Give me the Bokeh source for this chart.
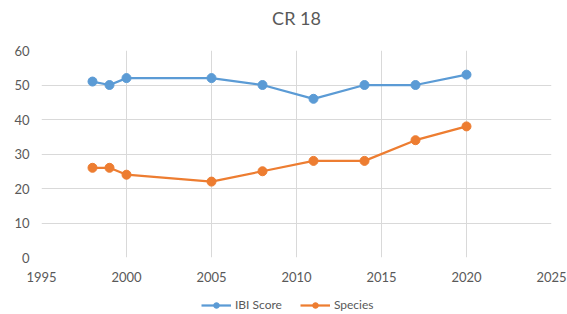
from bokeh.plotting import figure
from bokeh.models import Range1d, Legend, LegendItem, FixedTicker, Title
from bokeh.layouts import column
from bokeh.embed import file_html
from bokeh.resources import INLINE

years_ibi = [1998, 1999, 2000, 2005, 2008, 2011, 2014, 2017, 2020]
ibi_score = [51, 50, 52, 52, 50, 46, 50, 50, 53]
years_sp = [1998, 1999, 2000, 2005, 2008, 2011, 2014, 2017, 2020]
species = [26, 26, 24, 22, 25, 28, 28, 34, 38]
x_ticks = [1995, 2000, 2005, 2010, 2015, 2020, 2025]
y_ticks = [0, 10, 20, 30, 40, 50, 60]
title_text = "CR 18"
series_names = ["IBI Score", "Species"]

FONT = "Lato"
GREY = "#595959"
BLUE = "#5B9BD5"
ORANGE = "#ED7D31"

p = figure(frame_width=510, frame_height=207, output_backend="svg", toolbar_location=None,
           x_range=Range1d(1995, 2025), y_range=Range1d(0, 60),
           min_border_left=41, min_border_right=16, min_border_top=50, min_border_bottom=36)
p.title.text = ""
p.outline_line_color = None
p.background_fill_color = "white"
p.border_fill_color = "white"

# spacer closest to the frame, then the visible title
spacer = Title(text=" ", text_font=FONT, text_font_size="10px", standoff=8, align="center")
p.add_layout(spacer, "above")
main_title = Title(text=title_text, text_font=FONT, text_font_size="18px",
                   text_font_style="normal", text_color=GREY, align="center",
                   offset=0, standoff=0)
p.add_layout(main_title, "above")

for ax in (p.xaxis[0], p.yaxis[0]):
    ax.axis_line_color = None
    ax.major_tick_line_color = None
    ax.minor_tick_line_color = None
    ax.major_tick_out = 0
    ax.major_tick_in = 0
    ax.major_label_text_font = FONT
    ax.major_label_text_font_size = "13px"
    ax.major_label_text_color = GREY
p.xaxis[0].ticker = FixedTicker(ticks=x_ticks)
p.yaxis[0].ticker = FixedTicker(ticks=y_ticks)
p.xaxis[0].major_label_standoff = 14
p.yaxis[0].major_label_standoff = 12

for g in (p.xgrid[0], p.ygrid[0]):
    g.grid_line_color = "#d9d9d9"
    g.grid_line_width = 1
p.xgrid[0].ticker = FixedTicker(ticks=x_ticks)
p.ygrid[0].ticker = FixedTicker(ticks=y_ticks)

p.line(years_ibi, ibi_score, line_color=BLUE, line_width=2.25)
p.scatter(years_ibi, ibi_score, size=9, fill_color=BLUE, line_color=BLUE)
p.line(years_sp, species, line_color=ORANGE, line_width=2.25)
p.scatter(years_sp, species, size=9, fill_color=ORANGE, line_color=ORANGE)

# legend row as its own strip under the chart (series drawn off-screen, only the key shows)
pl = figure(width=567, height=21, output_backend="svg", toolbar_location=None,
            x_axis_type=None, y_axis_type=None, x_range=Range1d(0, 1), y_range=Range1d(0, 1),
            min_border_left=0, min_border_right=0, min_border_top=0, min_border_bottom=0)
pl.outline_line_color = None
pl.grid.visible = False
pl.background_fill_color = "white"
pl.border_fill_color = "white"
k1 = pl.line(years_ibi, ibi_score, line_color=BLUE, line_width=2.25)
m1 = pl.scatter(years_ibi, ibi_score, size=8, fill_color=BLUE, line_color=BLUE)
k2 = pl.line(years_sp, species, line_color=ORANGE, line_width=2.25)
m2 = pl.scatter(years_sp, species, size=8, fill_color=ORANGE, line_color=ORANGE)

legend = Legend(items=[LegendItem(label=series_names[0], renderers=[k1, m1]),
                       LegendItem(label=series_names[1], renderers=[k2, m2])],
                orientation="horizontal", location=(160, 2), nrows=1,
                label_text_font=FONT, label_text_font_size="12px", label_text_color=GREY,
                border_line_color=None, background_fill_alpha=0,
                glyph_width=30, glyph_height=14, padding=1, spacing=18, margin=0,
                label_standoff=4, label_height=14)
pl.add_layout(legend, "center")

layout = column(p, pl, spacing=0)
open("out.html", "w").write(file_html(layout, INLINE))
